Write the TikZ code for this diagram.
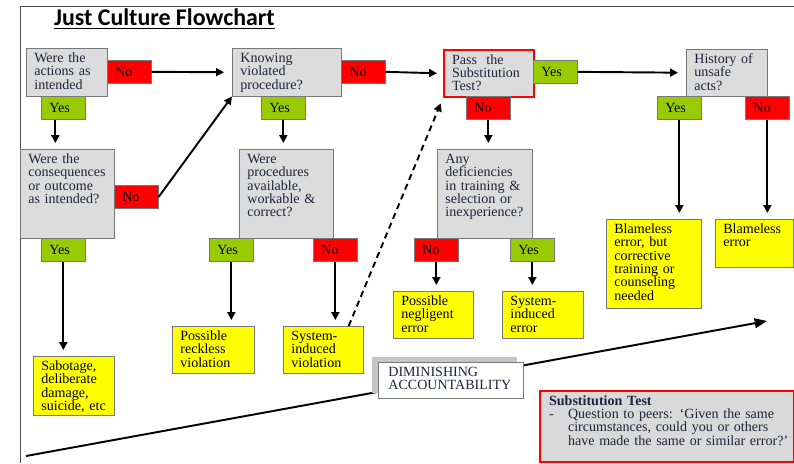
\documentclass[tikz,border=0pt]{standalone}
\usepackage{fontspec}
\setmainfont{Liberation Serif}
\newfontfamily\titlefont{Carlito}
\usepackage{xcolor}
\usepackage{tikz}
\usetikzlibrary{positioning,arrows.meta,shadows}

\definecolor{qgray}{RGB}{220,220,220}
\definecolor{subgray}{RGB}{217,217,217}
\definecolor{nored}{RGB}{255,0,0}
\definecolor{yesgreen}{RGB}{153,204,0}
\definecolor{outyellow}{RGB}{255,255,0}
\definecolor{navytext}{RGB}{30,36,62}
\definecolor{edgegray}{RGB}{120,120,120}

\begin{document}
\begin{tikzpicture}[
    x=0.02cm, y=-0.02cm,
    every node/.style={font=\fontsize{8}{7.6}\selectfont},
    box/.style={draw=edgegray, anchor=north west, align=left, inner xsep=0.16cm, inner ysep=2pt, text height=6pt},
    question/.style={box, fill=qgray, text=navytext},
    outcome/.style={box, fill=outyellow},
    answer/.style={draw=edgegray, anchor=north west, align=left, inner xsep=0.16cm, inner ysep=0pt, minimum height=0.46cm, text width=0.56cm},
    nobox/.style={answer, fill=nored},
    yesbox/.style={answer, fill=yesgreen},
    arr/.style={-{Triangle[length=4.5pt,width=4.5pt]}, line width=1.1pt, shorten >=0.12cm}
]
    \useasboundingbox (0,0) rectangle (794,463);
    \draw[black!70] (20,463) -- (20,6) -- (794,6);

    \node[anchor=base west, font=\titlefont\bfseries\fontsize{13.6}{16}\selectfont] (title) at (48,26) {\underline{Just Culture Flowchart}};

    % questions
    \node[question, text width=1.30cm, text depth=17.2pt] (q1) at (26,48) {Were the\\actions as\\intended};
    \node[question, text width=1.86cm, text depth=17.2pt] (q2) at (232,48) {Knowing\\violated\\procedure?};
    \node[question, text width=1.56cm, text depth=40.5pt] (q3) at (20,149) {Were the\\consequences\\or outcome\\as intended?};
    \node[question, text width=1.56cm, text depth=40.5pt] (q4) at (239,149) {Were\\procedures\\available,\\workable \&\\correct?};
    \node[question, draw=nored, line width=1.2pt, text width=1.48cm, text depth=16.6pt] (q5) at (443,49) {Pass\ \ the\\Substitution\\Test?};
    \node[question, text width=1.58cm, text depth=40.5pt] (q6) at (437,149) {Any\\deficiencies\\in training \&\\selection or\\inexperience?};
    \node[question, text width=1.30cm, text depth=16.6pt] (q7) at (686,49) {History of\\unsafe\\acts?};

    % answers
    \node[nobox] (n1) at (107,60) {No};
    \node[yesbox] (y1) at (41,96) {Yes};
    \node[nobox] (n2) at (341,60) {No};
    \node[yesbox] (y2) at (261,96) {Yes};
    \node[nobox] (n3) at (114,185) {No};
    \node[yesbox] (y3) at (41,238) {Yes};
    \node[yesbox] (y4) at (209,238) {Yes};
    \node[nobox] (n4) at (313,238) {No};
    \node[yesbox] (y5) at (533,60) {Yes};
    \node[nobox] (n5) at (466,96) {No};
    \node[nobox] (n6) at (414,238) {No};
    \node[yesbox] (y6) at (510,238) {Yes};
    \node[yesbox] (y7) at (657,96) {Yes};
    \node[nobox] (n7) at (745,96) {No};

    % outcomes
    \node[outcome, text width=1.30cm, text depth=23.4pt] (o1) at (33,356) {Sabotage,\\deliberate\\damage,\\suicide, etc};
    \node[outcome, text width=1.32cm, text depth=16.6pt] (o2) at (172,326) {Possible\\reckless\\violation};
    \node[outcome, text width=1.28cm, text depth=16.6pt] (o3) at (283,326) {System-\\induced\\violation};
    \node[outcome, text width=1.28cm, text depth=16.6pt] (o4) at (393,291) {Possible\\negligent\\error};
    \node[outcome, text width=1.30cm, text depth=16.6pt] (o5) at (502,291) {System-\\induced\\error};
    \node[outcome, text width=1.58cm, text depth=40.5pt] (o6) at (606,219) {Blameless\\error, but\\corrective\\training or\\counseling\\needed};
    \node[outcome, text width=1.24cm, text depth=17.2pt] (o7) at (715,219) {Blameless\\error};

    \draw[arr, shorten >=0.16cm] (n1.east) -- (q2.west);
    \draw[arr] (n2.east) -- (q5.west);
    \draw[arr, shorten >=0.16cm] (y5.east) -- (q7.west);
    \draw[arr, shorten >=0pt] (n3.east) -- (q2.south west);
    \draw[arr, dash pattern=on 3.5pt off 2.5pt] ([xshift=-0.3cm]o3.north east) -- (q5.south west);

    \draw[arr] ([xshift=-0.16cm]y1.south) -- ([xshift=-0.16cm]y1.south |- q3.north);
    \draw[arr] (y2.south) -- (y2.south |- q4.north);
    \draw[arr] (n5.south) -- (n5.south |- q6.north);
    \draw[arr] (y3.south) -- (y3.south |- o1.north);
    \draw[arr] (y4.south) -- (y4.south |- o2.north);
    \draw[arr] (n4.south) -- (n4.south |- o3.north);
    \draw[arr] (n6.south) -- (n6.south |- o4.north);
    \draw[arr] (y6.south) -- (y6.south |- o5.north);
    \draw[arr] (y7.south) -- (y7.south |- o6.north);
    \draw[arr] (n7.south) -- (n7.south |- o7.north);

    % accountability scale
    \coordinate (lowend) at (26,456);
    \coordinate (highend) at (767,321);
    \draw[line width=1.1pt, -{Triangle[length=7pt,width=5.5pt]}] (lowend) -- (highend);
    \node[box, fill=white, text=navytext, inner xsep=0.2cm, text width=2.5cm, text depth=10.4pt,
          general shadow={fill=gray!45, shadow xshift=-0.12cm, shadow yshift=0.1cm}] (dim) at (378,362) {DIMINISHING\\ACCOUNTABILITY};

    \node[box, draw=nored, line width=1.2pt, fill=subgray, text=navytext, inner xsep=0.18cm, text width=4.72cm, text depth=30.2pt] (sub) at (539,390)
        {\textbf{Substitution Test}\\\mbox{\makebox[0.38cm][l]{-}Question to peers: ‘Given the same}\\\mbox{\hspace*{0.38cm}circumstances, could you or others}\\\mbox{\hspace*{0.38cm}have made the same or similar error?’}};
\end{tikzpicture}
\end{document}
